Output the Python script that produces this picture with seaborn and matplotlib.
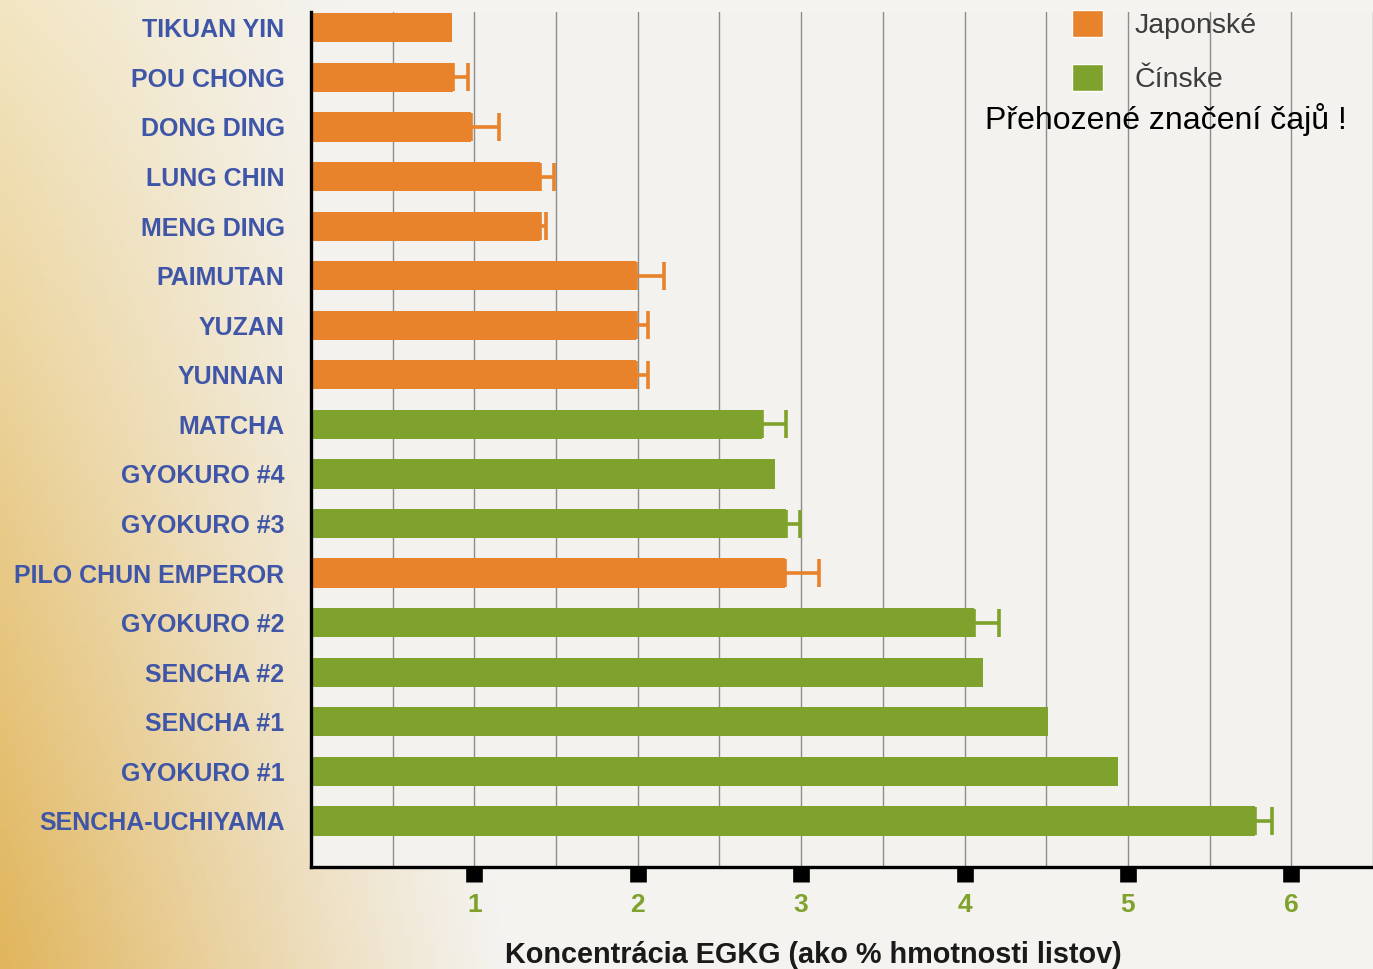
import numpy as np
import pandas as pd
import seaborn as sns
import matplotlib.pyplot as plt
from matplotlib.patches import Patch

# EGCG content (% of leaf weight), top to bottom
teas = ['TIKUAN YIN', 'POU CHONG', 'DONG DING', 'LUNG CHIN', 'MENG DING',
        'PAIMUTAN', 'YUZAN', 'YUNNAN', 'MATCHA', 'GYOKURO #4', 'GYOKURO #3',
        'PILO CHUN EMPEROR', 'GYOKURO #2', 'SENCHA #2', 'SENCHA #1',
        'GYOKURO #1', 'SENCHA-UCHIYAMA']
egcg = [0.86, 0.87, 0.98, 1.40, 1.40, 1.99, 1.99, 1.99, 2.76, 2.84, 2.905,
        2.90, 4.06, 4.11, 4.51, 4.94, 5.78]
err = [0, 0.09, 0.17, 0.09, 0.04, 0.17, 0.07, 0.07, 0.15, 0, 0.085,
       0.21, 0.15, 0, 0, 0, 0.10]
origin = ['Japonské'] * 8 + ['Čínske'] * 3 + ['Japonské'] + ['Čínske'] * 5

ORANGE = '#e9832b'
GREEN = '#7fa22c'
LABEL_BLUE = '#3f56a8'

df = pd.DataFrame({'tea': teas, 'egcg': egcg, 'err': err, 'origin': origin})

sns.set_style('white')
plt.rcParams['font.family'] = ['Liberation Sans', 'DejaVu Sans']

fig = plt.figure(figsize=(13.73, 9.69), dpi=100)

# warm photo-like background: golden on the left fading to off-white
bg_ax = fig.add_axes([0, 0, 1, 1], zorder=-10)
h, w = 200, 280
yy, xx = np.mgrid[0:1:h * 1j, 0:1:w * 1j]
fade = 0.25 + 0.12 * yy
wgt = np.clip(1 - xx / fade, 0, 1) ** 1.1
gold = np.stack([np.full_like(yy, 0.95) - 0.07 * yy,
                 0.90 - 0.19 * yy,
                 0.76 - 0.40 * yy], axis=-1)
base = np.array([0.957, 0.953, 0.942])
img = wgt[..., None] * gold + (1 - wgt[..., None]) * base
bg_ax.imshow(img, aspect='auto', extent=[0, 1, 0, 1], origin='upper')
bg_ax.set_axis_off()

ax = fig.add_axes([311 / 1373, 1 - 867 / 969, 1 - 311 / 1373, (867 - 12) / 969])
ax.set_facecolor('#f3f2ef')

sns.barplot(data=df, y='tea', x='egcg', hue='origin',
            palette={'Japonské': ORANGE, 'Čínske': GREEN},
            dodge=False, width=0.59, legend=False, saturation=1,
            orient='h', ax=ax, zorder=2, linewidth=0)

ypos = np.arange(len(teas))
for i, (v, e, o) in enumerate(zip(egcg, err, origin)):
    if e > 0:
        c = ORANGE if o == 'Japonské' else GREEN
        ax.errorbar(v, ypos[i], xerr=[[0], [e]], fmt='none', ecolor=c,
                    elinewidth=2.6, capsize=10, capthick=2.6, zorder=2.2)

ax.set_xlim(0, 6.44)
ax.set_ylim(16.93, -0.32)

ax.set_xticks([1, 2, 3, 4, 5, 6])
ax.set_xticks(np.arange(0.5, 6.51, 0.5), minor=True)
ax.grid(which='both', axis='x', color='#8c8c8c', linewidth=1.0)
ax.grid(False, axis='y')
ax.set_axisbelow(True)

ax.tick_params(axis='x', which='major', bottom=True, direction='out',
               length=10.5, width=12, color='black', pad=8,
               labelsize=19, labelcolor=GREEN)
ax.tick_params(axis='x', which='minor', bottom=False, length=0)
ax.tick_params(axis='y', left=False, length=0, pad=19, labelsize=18,
               labelcolor=LABEL_BLUE)
for lbl in ax.get_xticklabels():
    lbl.set_fontweight('bold')
for lbl in ax.get_yticklabels():
    lbl.set_fontweight('bold')

for side in ['top', 'right']:
    ax.spines[side].set_visible(False)
for side in ['left', 'bottom']:
    ax.spines[side].set_color('black')
    ax.spines[side].set_linewidth(2.4)
    ax.spines[side].set_zorder(5)

ax.set_xlabel('')
ax.set_ylabel('')
fig.text(813 / 1373, 1 - 955 / 969, 'Koncentrácia EGKG (ako % hmotnosti listov)',
         ha='center', va='center', fontsize=20.8, fontweight='bold', color='#1a1a1a')

handles = [Patch(facecolor=ORANGE, label='Japonské'),
           Patch(facecolor=GREEN, label='Čínske')]
fig.legend(handles=handles, loc='upper left',
           bbox_to_anchor=(1072 / 1373, 1 - 10 / 969), frameon=False,
           fontsize=20.5, labelcolor='#3c3c3c', handlelength=1.1,
           handleheight=1.1, handletextpad=1.1, labelspacing=0.85,
           borderpad=0, borderaxespad=0)

fig.text(985 / 1373, 1 - 120 / 969, 'Přehozené značení čajů !',
         ha='left', va='center', fontsize=23, color='black')

fig.savefig('out.png', dpi=100)
